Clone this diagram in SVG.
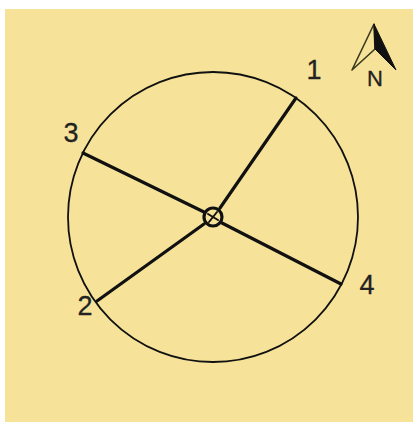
<svg xmlns="http://www.w3.org/2000/svg" width="413" height="422" viewBox="0 0 413 422">
<style>
.l{font-family:"Liberation Sans",Arial,sans-serif;font-size:27px;fill:#222;stroke:#222;stroke-width:.3}
.s{fill:none;stroke:#111;stroke-linecap:round}
</style>
<rect width="413" height="422" fill="#fff"/>
<rect x="5" y="9" width="408" height="413" fill="#f6e399"/>
<g id="boundary"><circle class="s" cx="213" cy="217" r="145" stroke-width="1.8"/></g>
<g id="connectors">
<line class="s" x1="296" y1="98" x2="220" y2="208" stroke-width="3.2"/>
<line class="s" x1="83" y1="153" x2="204" y2="212" stroke-width="3.2"/>
<line class="s" x1="97" y1="301" x2="204" y2="224" stroke-width="3.2"/>
<line class="s" x1="341" y1="284" x2="222" y2="223" stroke-width="3.2"/>
</g>
<g id="center"><circle class="s" cx="213" cy="217" r="9" stroke-width="3.2"/>
<line class="s" x1="209" y1="222" x2="217" y2="212" stroke-width="2"/>
<line class="s" x1="208" y1="214" x2="218" y2="220" stroke-width="2"/></g>
<g id="label-1"><text class="l" x="314" y="79" text-anchor="middle">1</text></g>
<g id="label-2"><text class="l" x="85" y="315" text-anchor="middle">2</text></g>
<g id="label-3"><text class="l" x="71" y="142" text-anchor="middle">3</text></g>
<g id="label-4"><text class="l" x="367" y="294" text-anchor="middle">4</text></g>
<g id="north">
<path d="M374 24 L352 70 L375 49 Z" fill="none" stroke="#3a3a20" stroke-width="1.6" stroke-linejoin="round"/>
<path d="M374 24 L375 49 L396 70 Z" fill="#111" stroke="#111" stroke-linejoin="round"/>
<text x="375" y="86" text-anchor="middle" style="font-family:'Liberation Sans',Arial,sans-serif;font-size:22px;fill:#222;stroke:#222;stroke-width:.3">N</text>
</g>
</svg>
